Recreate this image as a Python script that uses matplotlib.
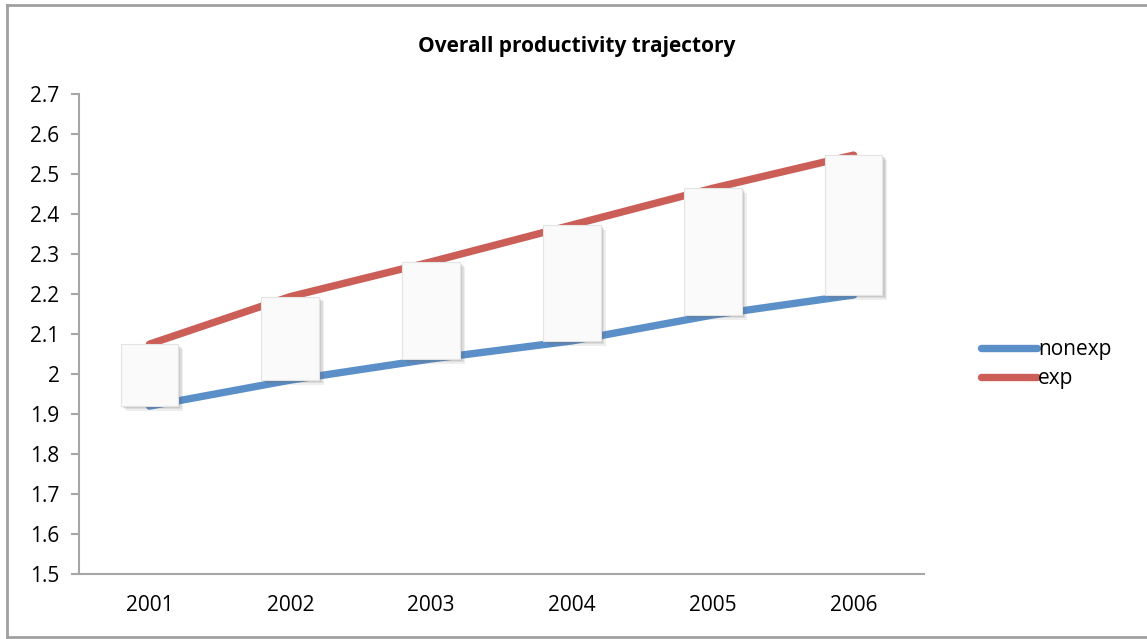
import matplotlib
matplotlib.use('Agg')
import matplotlib.pyplot as plt
from matplotlib.patches import Rectangle
from matplotlib.ticker import FuncFormatter

years = ['2001', '2002', '2003', '2004', '2005', '2006']
nonexp = [1.92, 1.985, 2.038, 2.083, 2.148, 2.198]
exp = [2.075, 2.194, 2.281, 2.373, 2.465, 2.548]

BLUE = '#5A8FC8'
RED = '#CB5F58'
AXIS_GRAY = '#A6A6A6'

plt.rcParams['font.family'] = ['Open Sans', 'DejaVu Sans']
plt.rcParams['font.weight'] = 'medium'

fig = plt.figure(figsize=(11.47, 6.39), dpi=100)
ax = fig.add_axes([0.0689, 0.1017, 0.7367, 0.7507])

x = list(range(len(years)))
ax.plot(x, nonexp, color=BLUE, lw=5.3, solid_capstyle='round', label='nonexp', zorder=2)
ax.plot(x, exp, color=RED, lw=5.3, solid_capstyle='round', label='exp', zorder=2)

# up-down bars between the two series, with a soft drop shadow
bar_w = 0.41
for xi, lo, hi in zip(x, nonexp, exp):
    y0, h = min(lo, hi), abs(hi - lo)
    for dx, dy, a in [(0.035, -0.012, 0.10), (0.025, -0.008, 0.12), (0.015, -0.005, 0.15)]:
        ax.add_patch(Rectangle((xi - bar_w / 2 + dx, y0 + dy), bar_w, h,
                               facecolor='#606060', edgecolor='none', alpha=a, zorder=3))
    ax.add_patch(Rectangle((xi - bar_w / 2, y0), bar_w, h, facecolor='#FAFAFA',
                           edgecolor='#E4E4E4', lw=0.8, zorder=4))

ax.set_xlim(-0.5, len(years) - 0.5)
ax.set_ylim(1.5, 2.7)
ax.set_xticks(x)
ax.set_xticklabels(years)
ax.set_yticks([1.5 + 0.1 * i for i in range(13)])
ax.yaxis.set_major_formatter(FuncFormatter(lambda v, p: '%g' % round(v, 1)))

for s in ['top', 'right']:
    ax.spines[s].set_visible(False)
for s in ['left', 'bottom']:
    ax.spines[s].set_color(AXIS_GRAY)
    ax.spines[s].set_linewidth(1.5)
ax.tick_params(axis='y', length=6, width=1.5, color=AXIS_GRAY, labelsize=15, pad=8)
ax.tick_params(axis='x', length=0, labelsize=15, pad=15)

fig.text(0.503, 0.928, 'Overall productivity trajectory', ha='center', va='center',
         fontsize=15, fontweight='bold')

ax.legend(loc='center left', bbox_to_anchor=(981 / 1147, 1 - 364 / 639),
          bbox_transform=fig.transFigure, frameon=False, fontsize=15,
          handlelength=2.7, handletextpad=0.05, borderpad=0, borderaxespad=0,
          labelspacing=0.4)

# outer chart frame (open on the right)
frame_kw = dict(color='#A0A0A0', lw=2, transform=fig.transFigure)
fig.add_artist(plt.Line2D([7 / 1147, 7 / 1147], [1 - 5 / 639, 1 - 637 / 639], **frame_kw))
fig.add_artist(plt.Line2D([7 / 1147, 1], [1 - 5 / 639, 1 - 5 / 639], **frame_kw))
fig.add_artist(plt.Line2D([7 / 1147, 1], [1 - 637 / 639, 1 - 637 / 639], **frame_kw))

fig.savefig('out.png', dpi=100)
